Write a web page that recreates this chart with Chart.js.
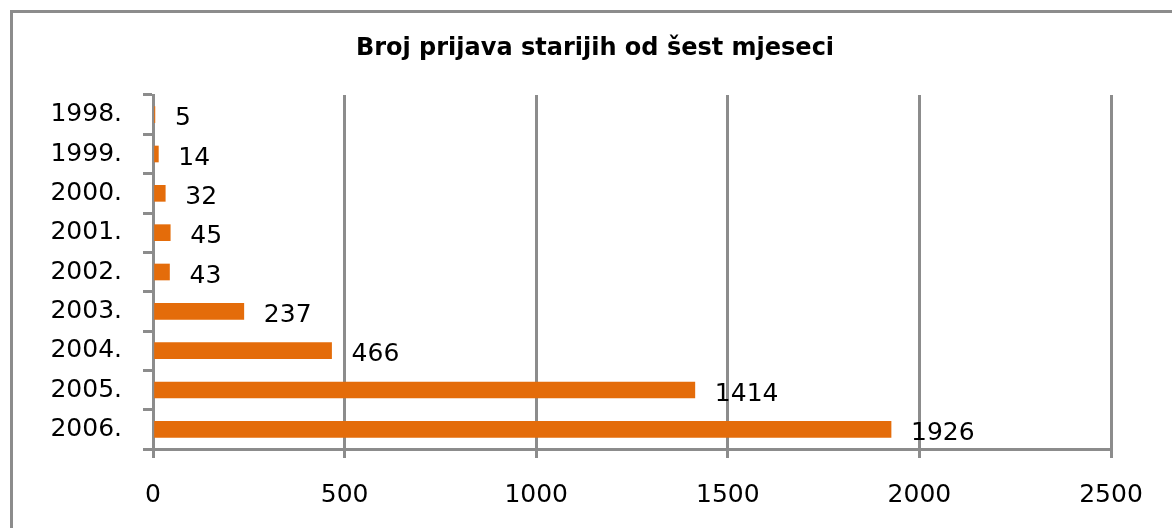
<!DOCTYPE html>
<html>
<head>
<meta charset="utf-8">
<script src="https://cdn.jsdelivr.net/npm/chart.js@4"></script>
<style>
  html, body { margin: 0; padding: 0; background: #fff; }
  #wrap { width: 1172px; height: 528px; }
</style>
</head>
<body>
<div id="wrap"><canvas id="barras" width="1172" height="528"></canvas></div>
<script>
// podaci
const naslov = 'Broj prijava starijih od šest mjeseci';
const godine = ['1998.', '1999.', '2000.', '2001.', '2002.', '2003.', '2004.', '2005.', '2006.'];
const prijave = [5, 14, 32, 45, 43, 237, 466, 1414, 1926];
const xTicks = [0, 500, 1000, 1500, 2000, 2500];

const siva = '#8c8c8c';
const narancasta = '#e46c0a';
const font = 'DejaVu Sans';

// okvir oko cijelog grafikona + naslov
const okvir = {
  id: 'okvir',
  beforeDraw(chart) {
    const ctx = chart.ctx;
    ctx.save();
    ctx.strokeStyle = siva;
    ctx.lineWidth = 3;
    ctx.strokeRect(11.5, 11.5, chart.width + 20, chart.height + 20);
    // naslov nije centriran nad platnom, nego malo desno
    ctx.fillStyle = '#000';
    ctx.font = 'bold 24px "' + font + '"';
    ctx.textAlign = 'center';
    ctx.textBaseline = 'middle';
    ctx.fillText(naslov, 595, 49);
    ctx.restore();
  }
};

// brojke desno od stupaca
const oznake = {
  id: 'oznake',
  afterDatasetsDraw(chart) {
    const ctx = chart.ctx;
    const meta = chart.getDatasetMeta(0);
    ctx.save();
    ctx.fillStyle = '#000';
    ctx.font = '25px "' + font + '"';
    ctx.textAlign = 'left';
    ctx.textBaseline = 'middle';
    meta.data.forEach((bar, i) => {
      ctx.fillText(String(prijave[i]), bar.x + 20, bar.y + 4);
    });
    ctx.restore();
  }
};

const el = document.getElementById('barras');
new Chart(el, {
  type: 'bar',
  data: {
    labels: godine,
    datasets: [{
      label: 'Broj prijava',
      data: prijave,
      backgroundColor: narancasta,
      borderWidth: 0,
      barThickness: 16
    }]
  },
  options: {
    indexAxis: 'y',
    responsive: false,
    animation: false,
    layout: { padding: { left: 0, right: 61, top: 95, bottom: 0 } },
    plugins: {
      legend: { display: false },
      tooltip: { enabled: false },
      title: { display: false }
    },
    scales: {
      x: {
        min: 0,
        max: 2500,
        afterBuildTicks: (scale) => { scale.ticks = xTicks.map(v => ({ value: v })); },
        afterFit: (scale) => { scale.height = 79; },
        grid: { color: siva, lineWidth: 3, tickLength: 9, tickColor: siva },
        border: { display: true, color: siva, width: 3 },
        ticks: {
          color: '#000',
          font: { family: font, size: 25 },
          padding: 22,
          maxRotation: 0,
          callback: (v) => String(v)
        }
      },
      y: {
        afterFit: (scale) => { scale.width = 153; },
        grid: { drawOnChartArea: false, color: siva, lineWidth: 3, tickLength: 10, offset: true },
        border: { display: true, color: siva, width: 3 },
        ticks: { color: '#000', font: { family: font, size: 25 }, padding: 21 }
      }
    }
  },
  plugins: [okvir, oznake]
});
</script>
</body>
</html>
